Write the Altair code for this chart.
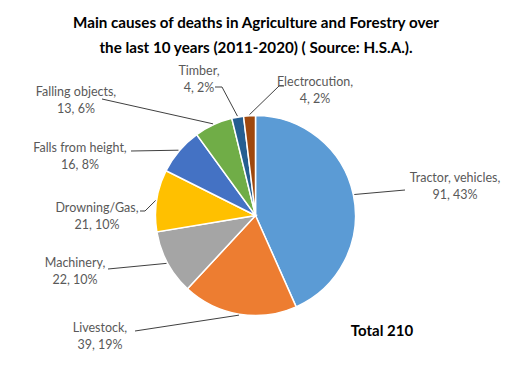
import math
import altair as alt
import pandas as pd

# ---- data ----
causes = ["Tractor, vehicles", "Livestock", "Machinery", "Drowning/Gas",
          "Falls from height", "Falling objects", "Timber", "Electrocution"]
deaths = [91, 39, 22, 21, 16, 13, 4, 4]
percents = [43, 19, 10, 10, 8, 6, 2, 2]
colors = ["#5B9BD5", "#ED7D31", "#A5A5A5", "#FFC000",
          "#4472C4", "#70AD47", "#255E91", "#9E480E"]
title_lines = ["Main causes of deaths in Agriculture and Forestry over",
               "the last 10 years (2011-2020) ( Source: H.S.A.)."]
total_text = "Total 210"

# ---- layout (view pixels) ----
W, H = 497, 357
CX, CY, R = 247.5, 207.5, 100
# label centre (x, y of first line) and leader stub point(s) near the label
label_pos = [(447, 170), (92, 320), (67, 255), (89, 200),
             (72, 140), (68, 84), (191, 63), (307, 74)]
stubs = [[(397, 182)], [(127, 323)], [(100, 261)], [(132, 203), (137, 203)],
         [(123, 143)], [(94, 91)], [(207, 79), (214, 79)], [(276, 78), (271, 78)]]

total = sum(deaths)
pie_df = pd.DataFrame({"cause": causes, "value": deaths, "idx": range(len(causes))})

lab_rows, line_rows = [], []
cum = 0
for i, (c, v, p) in enumerate(zip(causes, deaths, percents)):
    mid = (cum + v / 2) / total * 2 * math.pi
    cum += v
    ex, ey = CX + (R + 1) * math.sin(mid), CY - (R + 1) * math.cos(mid)
    lx, ly = label_pos[i]
    lab_rows.append({"x": lx, "y": ly, "t": c + ","})
    lab_rows.append({"x": lx, "y": ly + 16.5, "t": f"{v}, {p}%"})
    pts = stubs[i] + [(ex, ey)]
    for k, (px, py) in enumerate(pts):
        line_rows.append({"cause": c, "k": k, "x": px, "y": py})

lab_df = pd.DataFrame(lab_rows)
line_df = pd.DataFrame(line_rows)

pie = alt.Chart(pie_df).mark_arc(radius=R, stroke="white", strokeWidth=1.5).encode(
    theta=alt.Theta("value:Q", stack=True),
    color=alt.Color("cause:N", scale=alt.Scale(domain=causes, range=colors), legend=None),
    order=alt.Order("idx:Q"),
    x=alt.value(CX), y=alt.value(CY),
)

leaders = alt.Chart(line_df).mark_line(color="#404040", strokeWidth=1).encode(
    x=alt.X("x:Q", scale=None), y=alt.Y("y:Q", scale=None),
    detail="cause:N", order="k:Q",
)

labels = alt.Chart(lab_df).mark_text(font="Lato", fontSize=12.5, color="#595959",
                                     align="center", baseline="middle").encode(
    x=alt.X("x:Q", scale=None), y=alt.Y("y:Q", scale=None), text="t:N")

title_df = pd.DataFrame({"t": title_lines, "y": [15, 40]})
title = alt.Chart(title_df).mark_text(font="Lato", fontSize=15.2, fontWeight="bold",
                                      color="#000000", align="center", baseline="middle").encode(
    x=alt.value(248), y=alt.Y("y:Q", scale=None), text="t:N")

tot = alt.Chart(pd.DataFrame({"t": [total_text]})).mark_text(
    font="Lato", fontSize=15, fontWeight="bold", color="#000000",
    align="center", baseline="middle").encode(x=alt.value(374), y=alt.value(323), text="t:N")

chart = alt.layer(pie, leaders, labels, title, tot).properties(
    width=W, height=H, padding=0, autosize="none"
).configure_view(stroke=None)

chart.save("out.html", embed_options={"renderer": "svg", "actions": False})
